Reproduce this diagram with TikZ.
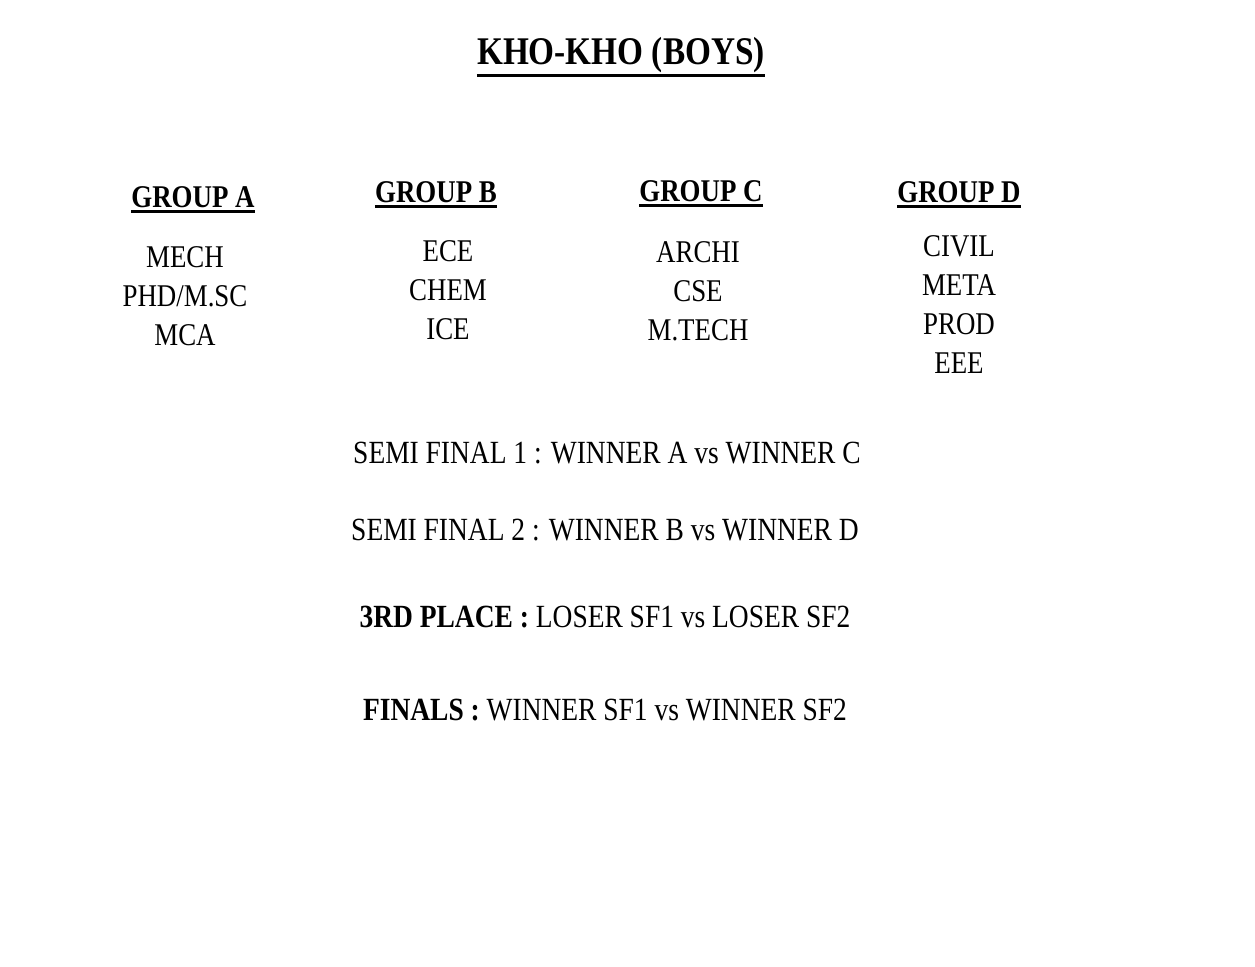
\documentclass[tikz,border=0pt]{standalone}
\usepackage{fontspec}
\setmainfont{Liberation Serif}[FakeStretch=0.85]
\usepackage{tikz}
\usetikzlibrary{positioning}

\begin{document}
\begin{tikzpicture}[x=0.02cm, y=-0.02cm,
every node/.style={inner sep=0pt, font=\fontsize{18.4}{22}\selectfont},
head/.style={font=\fontsize{18}{22}\selectfont\bfseries},
team/.style={align=center, font=\fontsize{18}{22.2}\selectfont},
line/.style={line width=1.6pt}]
\useasboundingbox (0,0) rectangle (1255,967);
% title
\node[font=\fontsize{22.3}{26}\selectfont\bfseries] (title) at (621,55) {KHO-KHO (BOYS)};
\draw[line] ([yshift=-1.5pt]title.south west) -- ([yshift=-1.5pt]title.south east);
% groups
\node[head] (gA) at (193,197) {GROUP A};
\node[head] (gB) at (436,192) {GROUP B};
\node[head] (gC) at (701,191) {GROUP C};
\node[head] (gD) at (959,192) {GROUP D};
\foreach \g in {gA, gB, gC, gD}{
\draw[line] ([yshift=-2.5pt]\g.base west) -- ([yshift=-2.5pt]\g.base east);}
\node[team] (tA) at (185,296) {MECH\\PHD/M.SC\\MCA};
\node[team] (tB) at (448,290) {ECE\\CHEM\\ICE};
\node[team] (tC) at (698,291) {ARCHI\\CSE\\M.TECH};
\node[team] (tD) at (959,305) {CIVIL\\META\\PROD\\EEE};
% matches
\node (sf1) at (607,453) {SEMI FINAL 1 : WINNER A vs WINNER C};
\node (sf2) at (605,530) {SEMI FINAL 2 : WINNER B vs WINNER D};
\node (third) at (605,617) {\textbf{3RD PLACE :} LOSER SF1 vs LOSER SF2};
\node (final) at (605,710) {\textbf{FINALS :} WINNER SF1 vs WINNER SF2};
\end{tikzpicture}
\end{document}
